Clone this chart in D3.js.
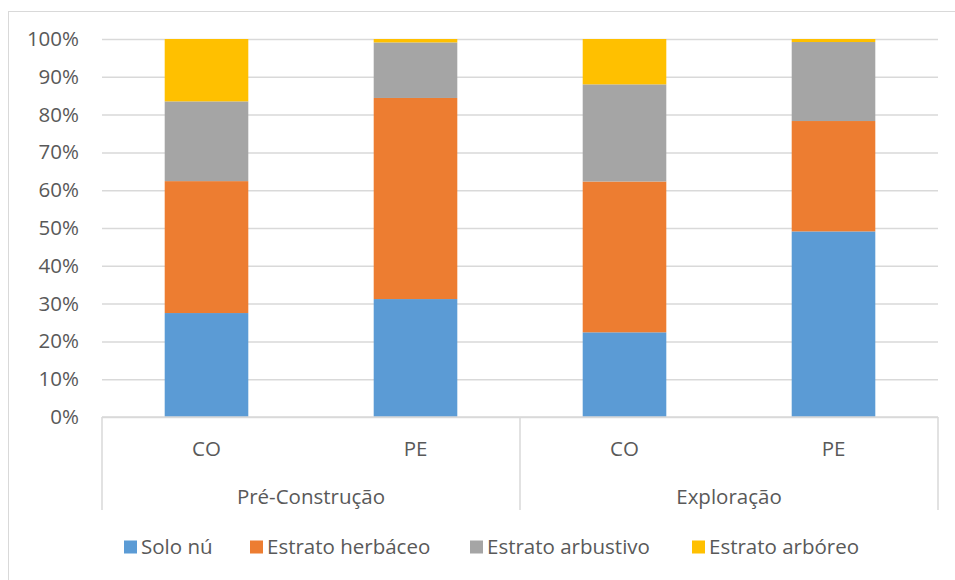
<!DOCTYPE html>
<html>
<head>
<meta charset="utf-8">
<script src="https://cdn.jsdelivr.net/npm/d3@7"></script>
<style>
  body { margin: 0; background: #fff; }
  text { font-family: "Open Sans", sans-serif; fill: #595959; }
</style>
</head>
<body>
<div id="chart"></div>
<script>
// data (percent of each bar)
var groups = ["Pré-Construção", "Exploração"];
var categories = ["CO", "PE", "CO", "PE"];
var seriesNames = ["Solo nú", "Estrato herbáceo", "Estrato arbustivo", "Estrato arbóreo"];
var soloNu = [27.5, 31.2, 22.4, 49.1];
var herbaceo = [34.9, 53.2, 39.9, 29.2];
var arbustivo = [21.1, 14.7, 25.7, 20.9];
var arboreo = [16.5, 0.9, 12.0, 0.8];
var yTicks = [0, 10, 20, 30, 40, 50, 60, 70, 80, 90, 100];
var colors = ["#5B9BD5", "#ED7D31", "#A5A5A5", "#FFC000"];

var W = 955, H = 580;
var margin = {top: 39, left: 102, right: 17, bottom: 163};
var width = W - margin.left - margin.right,
    height = H - margin.top - margin.bottom;
var fontSize = "20.5px";

var svg = d3.select("#chart")
  .append("svg")
    .attr("width", W)
    .attr("height", H);

// chart frame
svg.append("rect")
  .attr("x", 8.5).attr("y", 11.5)
  .attr("width", 960).attr("height", 600)
  .attr("fill", "none")
  .attr("stroke", "#D9D9D9");

var g = svg.append("g")
  .attr("transform", "translate(" + margin.left + "," + margin.top + ")");

// build rows for the stack
var rows = categories.map(function(c, i) {
  return {idx: i, cat: c, "Solo nú": soloNu[i], "Estrato herbáceo": herbaceo[i],
          "Estrato arbustivo": arbustivo[i], "Estrato arbóreo": arboreo[i]};
});
var stacked = d3.stack().keys(seriesNames)(rows);

var x = d3.scaleBand()
  .domain(d3.range(categories.length))
  .range([0, width])
  .paddingInner(0.6)
  .paddingOuter(0.3);

var y = d3.scaleLinear()
  .domain([0, 100])
  .range([height, 0]);

// grid lines + y labels
g.append("g")
  .call(d3.axisLeft(y).tickValues(yTicks).tickSize(-width).tickFormat(function(d) { return d + "%"; }))
  .call(function(a) {
    a.select(".domain").remove();
    a.selectAll(".tick line").attr("stroke", "#D9D9D9").attr("stroke-width", 1.5);
    a.selectAll(".tick text")
      .attr("x", -23)
      .style("font-size", fontSize)
      .style("fill", "#595959")
      .style("font-family", "Open Sans, sans-serif");
  });

// bars
g.selectAll(".series")
  .data(stacked)
  .enter()
  .append("g")
    .attr("fill", function(d, i) { return colors[i]; })
  .selectAll("rect")
  .data(function(d) { return d; })
  .enter()
  .append("rect")
    .attr("x", function(d) { return x(d.data.idx); })
    .attr("y", function(d) { return y(d[1]); })
    .attr("height", function(d) { return y(d[0]) - y(d[1]); })
    .attr("width", x.bandwidth());

// category axis
var step = x.step();
g.append("line")
  .attr("x1", 0).attr("x2", width)
  .attr("y1", height).attr("y2", height)
  .attr("stroke", "#D9D9D9").attr("stroke-width", 1.5);

var sepX = [0, 2 * step, 4 * step];
g.selectAll(".sep")
  .data(sepX)
  .enter()
  .append("line")
    .attr("x1", function(d) { return d; })
    .attr("x2", function(d) { return d; })
    .attr("y1", height)
    .attr("y2", height + 93)
    .attr("stroke", "#D9D9D9").attr("stroke-width", 1.5);

g.selectAll(".catlabel")
  .data(categories)
  .enter()
  .append("text")
    .attr("x", function(d, i) { return x(i) + x.bandwidth() / 2; })
    .attr("y", height + 32)
    .attr("dy", "0.35em")
    .attr("text-anchor", "middle")
    .style("font-size", fontSize)
    .text(function(d) { return d; });

g.selectAll(".grplabel")
  .data(groups)
  .enter()
  .append("text")
    .attr("x", function(d, i) { return (2 * i + 1) * step; })
    .attr("y", height + 80)
    .attr("dy", "0.35em")
    .attr("text-anchor", "middle")
    .style("font-size", fontSize)
    .text(function(d) { return d; });

// legend
var legendX = [124, 250, 470, 692];
var legend = svg.selectAll(".legend")
  .data(seriesNames)
  .enter()
  .append("g")
    .attr("transform", function(d, i) { return "translate(" + legendX[i] + ",547)"; });
legend.append("rect")
  .attr("x", 0).attr("y", -6.5)
  .attr("width", 13).attr("height", 13)
  .attr("fill", function(d, i) { return colors[i]; });
legend.append("text")
  .attr("x", 17)
  .attr("dy", "0.35em")
  .style("font-size", fontSize)
  .text(function(d) { return d; });
</script>
</body>
</html>
